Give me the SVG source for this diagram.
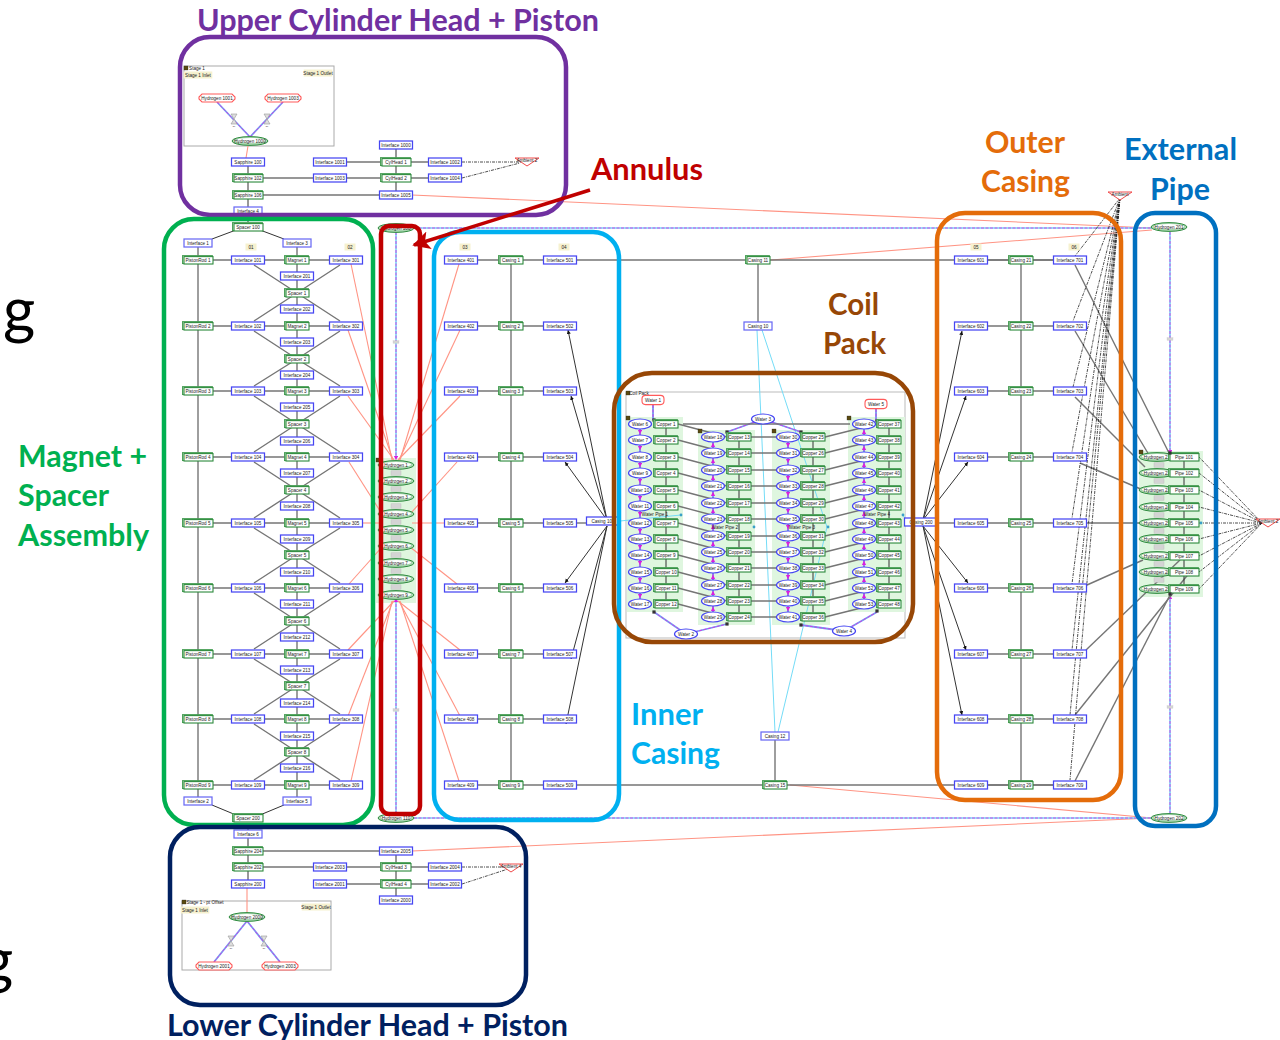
<svg xmlns="http://www.w3.org/2000/svg" width="1280" height="1040" viewBox="0 0 1280 1040">
<style>
text{font-family:"Liberation Sans",Arial,sans-serif;font-size:4.6px;text-anchor:middle;dominant-baseline:central;fill:#222}
.t text,text.t{font-family:Lato,"Open Sans",sans-serif;font-weight:700;font-size:30px;text-anchor:start;dominant-baseline:auto}
.f{fill:#fff}
.k,.g,.s,.d,.c,.m,.b{fill:none}
.k path{stroke:#333;stroke-width:1}
.g path{stroke:#757575;stroke-width:1.4}
.s path{stroke:#ff9484;stroke-width:1.1}
.d path{stroke:#222;stroke-width:.8;stroke-dasharray:3 1 1 1}
.c path{stroke:#74dcf7;stroke-width:1.6}
.b path{stroke:#6f9ff0;stroke-width:1.8}
.m path{stroke:#d633e8;stroke-width:.9;stroke-dasharray:3 1.5}
.a{fill:none;stroke-width:4.5}
.p{fill:#3aa0c8}
</style>
<defs>
<marker id="ah" markerWidth="5" markerHeight="5" refX="4" refY="2" orient="auto"><path d="M0 0L4 2L0 4Z" fill="#111"/></marker>
<marker id="mh" markerWidth="6" markerHeight="6" refX="2.5" refY="2.5" orient="auto"><path d="M0 0L5 2.5L0 5Z" fill="#d920e0"/></marker>
<marker id="rh" markerWidth="6" markerHeight="6" refX="4.5" refY="3" orient="auto" markerUnits="strokeWidth"><path d="M0 .4L5 3L0 5.6L1.2 3Z" fill="#c00000"/></marker>
<g id="I"><rect x="-16.5" y="-4" width="33" height="8" fill="#fff" stroke="#4646f2" stroke-width="1.25"/></g>
<g id="J"><rect x="-14" y="-4" width="28" height="8" fill="#fff" stroke="#6a6af4" stroke-width="1.25"/></g>
<g id="S"><rect x="-12.5" y="-4.4" width="24" height="8" fill="#cfe8d2" stroke="#3f9a4d" stroke-width=".9"/><rect x="-11" y="-3.4" width="23" height="7.4" fill="#fff" stroke="#2e8b3e" stroke-width="1.1"/></g>
<g id="P"><rect x="-15.5" y="-4.4" width="30" height="8" fill="#cfe8d2" stroke="#3f9a4d" stroke-width=".9"/><rect x="-14" y="-3.4" width="29" height="7.4" fill="#fff" stroke="#2e8b3e" stroke-width="1.1"/></g>
<g id="H"><ellipse rx="18" ry="4.4" fill="#a9d6b0" stroke="#2e8b3e" stroke-width="1"/><ellipse cy="-.5" rx="15" ry="2.6" fill="#fff"/></g>
<g id="W"><ellipse rx="11.5" ry="5" fill="#fff" stroke="#4646f2" stroke-width="1.2"/></g>
<g id="R"><path d="M-15 -4H15L18 -1V1L15 4H-15L-18 1V-1Z" fill="#fff" stroke="#ff5a5a" stroke-width="1.1"/></g>
<g id="Y"><rect x="-11" y="-4.6" width="22" height="9.2" rx="3.5" fill="#fff" stroke="#ff5a5a" stroke-width="1.1"/></g>
<path id="A" d="M-12 -3H12L0 5Z" fill="#fff" stroke="#f04a4a" stroke-width="1"/>
<g id="V"><path d="M-3 -5H3L-3 5H3Z" fill="#ddd" stroke="#999" stroke-width=".6"/><text y="7" style="font-size:2.5px">bv</text></g>
<rect id="Q" x="-5" y="-2.2" width="10" height="4.4" fill="#d4d4d4" stroke="#bbb" stroke-width=".4"/>
<rect id="L" x="-5.5" y="-3.5" width="11" height="7" fill="#f6f1cf"/>
<rect id="B" x="-2" y="-2" width="4" height="4" fill="#5a4a10" stroke="#222" stroke-width=".3"/>
<rect id="D" x="-1.6" y="-1.6" width="3.2" height="3.2" fill="#333"/>
</defs>
<rect width="1280" height="1040" fill="#fff"/>

<g id="backgrounds">
<rect x="184" y="66" width="150" height="80" class="f" stroke="#aaa" stroke-width="1"/>
<rect x="182" y="901" width="149" height="69" class="f" stroke="#aaa" stroke-width="1"/>
<rect x="626" y="392" width="279" height="246" class="f" stroke="#bbb" stroke-width="1"/>
<rect x="376" y="458" width="40" height="145" fill="#dff6df"/>
<rect x="1139" y="451" width="64" height="146" fill="#dff6df"/>
<rect x="627" y="417" width="56" height="195" fill="#dff6df"/>
<rect x="698" y="430" width="57" height="195" fill="#dff6df"/>
<rect x="772" y="430" width="58" height="195" fill="#dff6df"/>
<rect x="848" y="417" width="57" height="195" fill="#dff6df"/>
</g>

<g id="connectors">
<g class="s">
<path d="M248 146L246 158"/><path d="M247 921V888"/>
<path d="M412 195L1152 228"/><path d="M771 260L1152 230"/><path d="M412 851L1152 818"/><path d="M790 785L1152 818"/>
<path d="M351 264L392 460"/><path d="M348 330L393 460"/><path d="M348 396L394 460"/><path d="M349 462L382 514"/><path d="M362 523H380"/><path d="M349 584L382 547"/><path d="M348 650L394 601"/><path d="M348 716L393 601"/><path d="M351 781L392 601"/>
<path d="M459 264L400 460"/><path d="M460 330L399 460"/><path d="M460 396L398 460"/><path d="M457 462L410 514"/><path d="M445 523H412"/><path d="M457 584L410 547"/><path d="M460 650L398 601"/><path d="M460 716L399 601"/><path d="M459 781L400 601"/>
</g>
<g class="c">
<path d="M396 228H1152"/><path d="M396 818H1152"/>
<path d="M396 232V458"/><path d="M396 600V814"/><path d="M1170 232V452"/><path d="M1170 597V814"/>
<path d="M757 330L775 732" style="stroke-width:1"/><path d="M762 330L827 527L778 732" style="stroke-width:1"/>
<path d="M620 521L681 515" style="stroke-width:1"/><path d="M906 520L903 515" style="stroke-width:1"/>
</g>
<g class="m">
<path d="M396 228H1152"/><path d="M396 818H1152"/>
<path d="M396 232V458" marker-end="url(#mh)"/><path d="M396 814V600" marker-end="url(#mh)"/><path d="M1170 232V452" marker-end="url(#mh)"/><path d="M1170 814V597" marker-end="url(#mh)"/>
</g>
<g class="b">
<path d="M217 102L250 137"/><path d="M283 102L250 137"/>
<path d="M214 962L247 921"/><path d="M280 962L247 921"/>
<path d="M653 405V420"/><path d="M876 409V421"/>
<path d="M763 419L727 432"/><path d="M763 419L801 432"/><path d="M686 634L654 612"/><path d="M686 634L727 624"/><path d="M844 631L801 625"/><path d="M844 631L877 612"/>
<path d="M640 424V604"/><path d="M713 437V617"/><path d="M788 437V617"/><path d="M864 424V604"/>
</g>
<g class="m">
<path d="M217 102L250 137"/><path d="M283 102L250 137"/>
<path d="M214 962L247 921"/><path d="M280 962L247 921"/>
<path d="M653 405V420"/><path d="M876 409V421"/>
<path d="M763 419L727 432"/><path d="M763 419L801 432"/><path d="M686 634L654 612"/><path d="M686 634L727 624"/><path d="M844 631L801 625"/><path d="M844 631L877 612"/>
<path marker-mid="url(#mh)" d="M640 424V432V440V448V457V465V473V481V490V498V506V514V523V531V539V547V555V563V572V580V588V596V604"/>
<path marker-mid="url(#mh)" d="M713 617V609V601V593V585V577V568V560V552V544V536V527V519V511V503V494V486V478V470V461V453V445V437"/>
<path marker-mid="url(#mh)" d="M788 437V445V453V461V470V478V486V494V503V511V519V527V536V544V552V560V568V577V585V593V601V609V617"/>
<path marker-mid="url(#mh)" d="M864 604V596V588V580V572V563V555V547V539V531V523V514V506V498V490V481V473V465V457V448V440V432V424"/>
</g>
<g class="g">
<path d="M198 243V801"/><path d="M297 243V801"/><path d="M511 260V785"/><path d="M1021 260V785"/>
<path d="M198 260H346"/><path d="M198 326H346"/><path d="M198 391H346"/><path d="M198 457H346"/><path d="M198 523H346"/><path d="M198 588H346"/><path d="M198 654H346"/><path d="M198 719H346"/><path d="M198 785H346"/>
<path d="M461 260H560"/><path d="M461 326H560"/><path d="M461 391H560"/><path d="M461 457H560"/><path d="M461 523H560"/><path d="M461 588H560"/><path d="M461 654H560"/><path d="M461 719H560"/><path d="M461 785H560"/>
<path d="M971 260H1070"/><path d="M971 326H1070"/><path d="M971 391H1070"/><path d="M971 457H1070"/><path d="M971 523H1070"/><path d="M971 588H1070"/><path d="M971 654H1070"/><path d="M971 719H1070"/><path d="M971 785H1070"/>
<path d="M254 265L297 293L340 265M254 321L297 293L340 321"/><path d="M254 331L297 359L340 331M254 386L297 359L340 386"/><path d="M254 396L297 424L340 396M254 452L297 424L340 452"/><path d="M254 462L297 490L340 462M254 518L297 490L340 518"/><path d="M254 528L297 555L340 528M254 583L297 555L340 583"/><path d="M254 593L297 621L340 593M254 649L297 621L340 649"/><path d="M254 659L297 686L340 659M254 714L297 686L340 714"/><path d="M254 724L297 752L340 724M254 780L297 752L340 780"/>
<path d="M248 178H445"/><path d="M248 195H396"/><path d="M330 162H445"/><path d="M248 851H396"/><path d="M248 867H445"/><path d="M330 884H445"/>
<path d="M576 260H1054"/><path d="M576 785H1054"/><path d="M758 260V322"/><path d="M775 740V785"/>
<path d="M576 523H590"/><path d="M937 523H955"/>
<path d="M1075 265L1170 455"/><path d="M1075 331L1152 460"/><path d="M1075 397L1145 467"/><path d="M1080 463L1143 490"/><path d="M1086 523H1143"/><path d="M1087 585L1143 560"/><path d="M1086 650L1180 560"/><path d="M1075 715L1190 572"/><path d="M1075 781L1170 595"/>
<path d="M683 424H850"/>
<path d="M678 424L727 437"/><path d="M678 440L727 453"/><path d="M678 457L727 470"/><path d="M678 473L727 486"/><path d="M678 490L727 503"/><path d="M678 506L727 519"/><path d="M678 523L727 536"/><path d="M678 539L727 552"/><path d="M678 555L727 568"/><path d="M678 572L727 585"/><path d="M678 588L727 601"/><path d="M678 604L727 617"/>
<path d="M739 437H813"/><path d="M739 453H813"/><path d="M739 470H813"/><path d="M739 486H813"/><path d="M739 503H813"/><path d="M739 519H813"/><path d="M739 536H813"/><path d="M739 552H813"/><path d="M739 568H813"/><path d="M739 585H813"/><path d="M739 601H813"/><path d="M739 617H813"/>
<path d="M825 437L877 424"/><path d="M825 453L877 440"/><path d="M825 470L877 457"/><path d="M825 486L877 473"/><path d="M825 503L877 490"/><path d="M825 519L877 506"/><path d="M825 536L877 523"/><path d="M825 552L877 539"/><path d="M825 568L877 555"/><path d="M825 585L877 572"/><path d="M825 601L877 588"/><path d="M825 617L877 604"/>
</g>
<g class="k">
<path d="M248 162V222"/><path d="M396 145V195"/><path d="M248 823V884"/><path d="M396 851V900"/>
<path d="M236 230L212 239"/><path d="M260 230L284 239"/><path d="M212 805L236 815"/><path d="M284 805L260 815"/>
<path d="M666 424V604"/><path d="M739 437V617"/><path d="M813 437V617"/><path d="M889 424V604"/><path d="M1184 457V589"/>
<path d="M607 520L568 330" marker-end="url(#ah)"/><path d="M607 520L571 396" marker-end="url(#ah)"/><path d="M607 520L565 462" marker-end="url(#ah)"/><path d="M607 526L565 583" marker-end="url(#ah)"/><path d="M607 526L571 659" marker-end="url(#ah)"/><path d="M607 526L566 724" marker-end="url(#ah)"/>
<path d="M923 520L962 331" marker-end="url(#ah)"/><path d="M923 520L966 396" marker-end="url(#ah)"/><path d="M923 520L968 462" marker-end="url(#ah)"/><path d="M923 526L968 583" marker-end="url(#ah)"/><path d="M923 526L966 650" marker-end="url(#ah)"/><path d="M923 526L962 715" marker-end="url(#ah)"/>
</g>
<g class="d">
<path d="M462 162H524"/><path d="M462 178L520 163"/><path d="M462 867H505"/><path d="M462 884L508 869"/>
<path d="M1120 198L1075 256"/><path d="M1120 198L1073 321"/><path d="M1120 198L1073 387"/><path d="M1120 198L1072 452"/><path d="M1120 198L1072 518"/><path d="M1120 198L1072 584"/><path d="M1120 198L1072 650"/><path d="M1120 198L1070 715"/><path d="M1120 198L1070 780"/>
<path d="M1262 523L1199 457"/><path d="M1262 523L1199 473"/><path d="M1262 523L1199 490"/><path d="M1262 523L1199 507"/><path d="M1262 523H1199"/><path d="M1262 523L1199 539"/><path d="M1262 523L1199 556"/><path d="M1262 523L1199 572"/><path d="M1262 523L1199 589"/>
</g>
</g>

<g id="upper-head">
<g id="stage1"><use href="#B" x="186" y="68"/><text x="197" y="68">Stage 1</text><use href="#L" transform="translate(198 75) scale(2.6 1)"/><text x="198" y="75">Stage 1 Inlet</text><use href="#L" transform="translate(318 73) scale(2.6 1)"/><text x="318" y="73">Stage 1 Outlet</text></g>
<g id="h1001" transform="translate(217 98)"><use href="#R"/><text>Hydrogen 1001</text></g>
<g id="h1003" transform="translate(283 98)"><use href="#R"/><text>Hydrogen 1003</text></g>
<g id="h1000" transform="translate(250 141)"><use href="#H"/><text>Hydrogen 1000</text></g>
<g id="v1" transform="translate(234 119)"><use href="#V"/></g><g id="v2" transform="translate(267 119)"><use href="#V"/></g>
<g id="sa100" transform="translate(248 162)"><use href="#I"/><text>Sapphire 100</text></g>
<g id="sa102" transform="translate(248 178)"><use href="#P"/><text>Sapphire 102</text></g>
<g id="sa106" transform="translate(248 195)"><use href="#P"/><text>Sapphire 106</text></g>
<g id="i4" transform="translate(248 211)"><use href="#J"/><text>Interface 4</text></g>
<g id="i1001" transform="translate(330 162)"><use href="#I"/><text>Interface 1001</text></g>
<g id="i1003" transform="translate(330 178)"><use href="#I"/><text>Interface 1003</text></g>
<g id="i1000" transform="translate(396 145)"><use href="#I"/><text>Interface 1000</text></g>
<g id="cy1" transform="translate(396 162)"><use href="#P"/><text>CylHead 1</text></g>
<g id="cy2" transform="translate(396 178)"><use href="#P"/><text>CylHead 2</text></g>
<g id="i1005" transform="translate(396 195)"><use href="#I"/><text>Interface 1005</text></g>
<g id="i1002" transform="translate(445 162)"><use href="#I"/><text>Interface 1002</text></g>
<g id="i1004" transform="translate(445 178)"><use href="#I"/><text>Interface 1004</text></g>
<g id="amb1" transform="translate(527 161)"><use href="#A"/><text y="-.5">Ambient 2</text></g>
</g>

<g id="lower-head">
<g id="stage2"><use href="#B" x="184" y="902"/><text x="205" y="902">Stage 1 - pt Offset</text><use href="#L" transform="translate(195 910) scale(2.6 1)"/><text x="195" y="910">Stage 1 Inlet</text><use href="#L" transform="translate(316 907) scale(2.6 1)"/><text x="316" y="907">Stage 1 Outlet</text></g>
<g id="h2000" transform="translate(247 917)"><use href="#H"/><text>Hydrogen 2000</text></g>
<g id="h2001" transform="translate(214 966)"><use href="#R"/><text>Hydrogen 2001</text></g>
<g id="h2003" transform="translate(280 966)"><use href="#R"/><text>Hydrogen 2003</text></g>
<g id="v3" transform="translate(231 941)"><use href="#V"/></g><g id="v4" transform="translate(264 941)"><use href="#V"/></g>
<g id="i6" transform="translate(248 834)"><use href="#J"/><text>Interface 6</text></g>
<g id="sa204" transform="translate(248 851)"><use href="#P"/><text>Sapphire 204</text></g>
<g id="sa202" transform="translate(248 867)"><use href="#P"/><text>Sapphire 202</text></g>
<g id="sa200" transform="translate(248 884)"><use href="#I"/><text>Sapphire 200</text></g>
<g id="i2005" transform="translate(396 851)"><use href="#I"/><text>Interface 2005</text></g>
<g id="i2003" transform="translate(330 867)"><use href="#I"/><text>Interface 2003</text></g>
<g id="cy3" transform="translate(396 867)"><use href="#P"/><text>CylHead 3</text></g>
<g id="i2004" transform="translate(445 867)"><use href="#I"/><text>Interface 2004</text></g>
<g id="i2001" transform="translate(330 884)"><use href="#I"/><text>Interface 2001</text></g>
<g id="cy4" transform="translate(396 884)"><use href="#P"/><text>CylHead 4</text></g>
<g id="i2002" transform="translate(445 884)"><use href="#I"/><text>Interface 2002</text></g>
<g id="i2000" transform="translate(396 900)"><use href="#I"/><text>Interface 2000</text></g>
<g id="amb2" transform="translate(511 867)"><use href="#A"/><text y="-.5">Ambient 4</text></g>
</g>

<g id="magnet-spacer">
<g id="sp100" transform="translate(248 227)"><use href="#P"/><text>Spacer 100</text></g>
<g id="sp200" transform="translate(248 818)"><use href="#P"/><text>Spacer 200</text></g>
<g id="i1" transform="translate(198 243)"><use href="#J"/><text>Interface 1</text></g>
<g id="i3" transform="translate(297 243)"><use href="#J"/><text>Interface 3</text></g>
<g id="i2" transform="translate(198 801)"><use href="#J"/><text>Interface 2</text></g>
<g id="i5" transform="translate(297 801)"><use href="#J"/><text>Interface 5</text></g>
<g id="l1"><use href="#L" x="251" y="247"/><text x="251" y="247">01</text></g><g id="l2"><use href="#L" x="350" y="247"/><text x="350" y="247">02</text></g>
<g id="pr1" transform="translate(198 260)"><use href="#P"/><text>PistonRod 1</text></g><g id="i101" transform="translate(248 260)"><use href="#I"/><text>Interface 101</text></g><g id="mg1" transform="translate(297 260)"><use href="#S"/><text>Magnet 1</text></g><g id="i301" transform="translate(346 260)"><use href="#I"/><text>Interface 301</text></g>
<g id="pr2" transform="translate(198 326)"><use href="#P"/><text>PistonRod 2</text></g><g id="i102" transform="translate(248 326)"><use href="#I"/><text>Interface 102</text></g><g id="mg2" transform="translate(297 326)"><use href="#S"/><text>Magnet 2</text></g><g id="i302" transform="translate(346 326)"><use href="#I"/><text>Interface 302</text></g>
<g id="pr3" transform="translate(198 391)"><use href="#P"/><text>PistonRod 3</text></g><g id="i103" transform="translate(248 391)"><use href="#I"/><text>Interface 103</text></g><g id="mg3" transform="translate(297 391)"><use href="#S"/><text>Magnet 3</text></g><g id="i303" transform="translate(346 391)"><use href="#I"/><text>Interface 303</text></g>
<g id="pr4" transform="translate(198 457)"><use href="#P"/><text>PistonRod 4</text></g><g id="i104" transform="translate(248 457)"><use href="#I"/><text>Interface 104</text></g><g id="mg4" transform="translate(297 457)"><use href="#S"/><text>Magnet 4</text></g><g id="i304" transform="translate(346 457)"><use href="#I"/><text>Interface 304</text></g>
<g id="pr5" transform="translate(198 523)"><use href="#P"/><text>PistonRod 5</text></g><g id="i105" transform="translate(248 523)"><use href="#I"/><text>Interface 105</text></g><g id="mg5" transform="translate(297 523)"><use href="#S"/><text>Magnet 5</text></g><g id="i305" transform="translate(346 523)"><use href="#I"/><text>Interface 305</text></g>
<g id="pr6" transform="translate(198 588)"><use href="#P"/><text>PistonRod 6</text></g><g id="i106" transform="translate(248 588)"><use href="#I"/><text>Interface 106</text></g><g id="mg6" transform="translate(297 588)"><use href="#S"/><text>Magnet 6</text></g><g id="i306" transform="translate(346 588)"><use href="#I"/><text>Interface 306</text></g>
<g id="pr7" transform="translate(198 654)"><use href="#P"/><text>PistonRod 7</text></g><g id="i107" transform="translate(248 654)"><use href="#I"/><text>Interface 107</text></g><g id="mg7" transform="translate(297 654)"><use href="#S"/><text>Magnet 7</text></g><g id="i307" transform="translate(346 654)"><use href="#I"/><text>Interface 307</text></g>
<g id="pr8" transform="translate(198 719)"><use href="#P"/><text>PistonRod 8</text></g><g id="i108" transform="translate(248 719)"><use href="#I"/><text>Interface 108</text></g><g id="mg8" transform="translate(297 719)"><use href="#S"/><text>Magnet 8</text></g><g id="i308" transform="translate(346 719)"><use href="#I"/><text>Interface 308</text></g>
<g id="pr9" transform="translate(198 785)"><use href="#P"/><text>PistonRod 9</text></g><g id="i109" transform="translate(248 785)"><use href="#I"/><text>Interface 109</text></g><g id="mg9" transform="translate(297 785)"><use href="#S"/><text>Magnet 9</text></g><g id="i309" transform="translate(346 785)"><use href="#I"/><text>Interface 309</text></g>
<g id="i201" transform="translate(297 276)"><use href="#I"/><text>Interface 201</text></g><g id="sp1" transform="translate(297 293)"><use href="#S"/><text>Spacer 1</text></g><g id="i202" transform="translate(297 309)"><use href="#I"/><text>Interface 202</text></g>
<g id="i203" transform="translate(297 342)"><use href="#I"/><text>Interface 203</text></g><g id="sp2" transform="translate(297 359)"><use href="#S"/><text>Spacer 2</text></g><g id="i204" transform="translate(297 375)"><use href="#I"/><text>Interface 204</text></g>
<g id="i205" transform="translate(297 407)"><use href="#I"/><text>Interface 205</text></g><g id="sp3" transform="translate(297 424)"><use href="#S"/><text>Spacer 3</text></g><g id="i206" transform="translate(297 441)"><use href="#I"/><text>Interface 206</text></g>
<g id="i207" transform="translate(297 473)"><use href="#I"/><text>Interface 207</text></g><g id="sp4" transform="translate(297 490)"><use href="#S"/><text>Spacer 4</text></g><g id="i208" transform="translate(297 506)"><use href="#I"/><text>Interface 208</text></g>
<g id="i209" transform="translate(297 539)"><use href="#I"/><text>Interface 209</text></g><g id="sp5" transform="translate(297 555)"><use href="#S"/><text>Spacer 5</text></g><g id="i210" transform="translate(297 572)"><use href="#I"/><text>Interface 210</text></g>
<g id="i211" transform="translate(297 604)"><use href="#I"/><text>Interface 211</text></g><g id="sp6" transform="translate(297 621)"><use href="#S"/><text>Spacer 6</text></g><g id="i212" transform="translate(297 637)"><use href="#I"/><text>Interface 212</text></g>
<g id="i213" transform="translate(297 670)"><use href="#I"/><text>Interface 213</text></g><g id="sp7" transform="translate(297 686)"><use href="#S"/><text>Spacer 7</text></g><g id="i214" transform="translate(297 703)"><use href="#I"/><text>Interface 214</text></g>
<g id="i215" transform="translate(297 736)"><use href="#I"/><text>Interface 215</text></g><g id="sp8" transform="translate(297 752)"><use href="#S"/><text>Spacer 8</text></g><g id="i216" transform="translate(297 768)"><use href="#I"/><text>Interface 216</text></g>
</g>

<g id="annulus">
<g id="hA" transform="translate(396 228)"><use href="#H"/><text>Hydrogen 100</text></g>
<g id="hB" transform="translate(396 818)"><use href="#H"/><text>Hydrogen 110</text></g>
<g id="am1" transform="translate(396 342) scale(.6)"><use href="#Q"/></g><g id="am2" transform="translate(396 710) scale(.6)"><use href="#Q"/></g>
<use href="#B" x="378" y="460"/>
<g id="an1" transform="translate(396 465)"><use href="#H"/><text>Hydrogen 1</text></g><g id="q1" transform="translate(396 473)"><use href="#Q"/></g>
<g id="an2" transform="translate(396 481)"><use href="#H"/><text>Hydrogen 2</text></g><g id="q2" transform="translate(396 489)"><use href="#Q"/></g>
<g id="an3" transform="translate(396 497)"><use href="#H"/><text>Hydrogen 3</text></g><g id="q3" transform="translate(396 506)"><use href="#Q"/></g>
<g id="an4" transform="translate(396 514)"><use href="#H"/><text>Hydrogen 4</text></g><g id="q4" transform="translate(396 522)"><use href="#Q"/></g>
<g id="an5" transform="translate(396 530)"><use href="#H"/><text>Hydrogen 5</text></g><g id="q5" transform="translate(396 538)"><use href="#Q"/></g>
<g id="an6" transform="translate(396 546)"><use href="#H"/><text>Hydrogen 6</text></g><g id="q6" transform="translate(396 555)"><use href="#Q"/></g>
<g id="an7" transform="translate(396 563)"><use href="#H"/><text>Hydrogen 7</text></g><g id="q7" transform="translate(396 571)"><use href="#Q"/></g>
<g id="an8" transform="translate(396 579)"><use href="#H"/><text>Hydrogen 8</text></g><g id="q8" transform="translate(396 587)"><use href="#Q"/></g>
<g id="an9" transform="translate(396 595)"><use href="#H"/><text>Hydrogen 9</text></g>
</g>

<g id="inner-casing">
<g id="l3"><use href="#L" x="465" y="247"/><text x="465" y="247">03</text></g><g id="l4"><use href="#L" x="564" y="247"/><text x="564" y="247">04</text></g>
<g id="i401" transform="translate(461 260)"><use href="#I"/><text>Interface 401</text></g><g id="c1" transform="translate(511 260)"><use href="#S"/><text>Casing 1</text></g><g id="i501" transform="translate(560 260)"><use href="#I"/><text>Interface 501</text></g>
<g id="i402" transform="translate(461 326)"><use href="#I"/><text>Interface 402</text></g><g id="c2" transform="translate(511 326)"><use href="#S"/><text>Casing 2</text></g><g id="i502" transform="translate(560 326)"><use href="#I"/><text>Interface 502</text></g>
<g id="i403" transform="translate(461 391)"><use href="#I"/><text>Interface 403</text></g><g id="c3" transform="translate(511 391)"><use href="#S"/><text>Casing 3</text></g><g id="i503" transform="translate(560 391)"><use href="#I"/><text>Interface 503</text></g>
<g id="i404" transform="translate(461 457)"><use href="#I"/><text>Interface 404</text></g><g id="c4" transform="translate(511 457)"><use href="#S"/><text>Casing 4</text></g><g id="i504" transform="translate(560 457)"><use href="#I"/><text>Interface 504</text></g>
<g id="i405" transform="translate(461 523)"><use href="#I"/><text>Interface 405</text></g><g id="c5" transform="translate(511 523)"><use href="#S"/><text>Casing 5</text></g><g id="i505" transform="translate(560 523)"><use href="#I"/><text>Interface 505</text></g>
<g id="i406" transform="translate(461 588)"><use href="#I"/><text>Interface 406</text></g><g id="c6" transform="translate(511 588)"><use href="#S"/><text>Casing 6</text></g><g id="i506" transform="translate(560 588)"><use href="#I"/><text>Interface 506</text></g>
<g id="i407" transform="translate(461 654)"><use href="#I"/><text>Interface 407</text></g><g id="c7" transform="translate(511 654)"><use href="#S"/><text>Casing 7</text></g><g id="i507" transform="translate(560 654)"><use href="#I"/><text>Interface 507</text></g>
<g id="i408" transform="translate(461 719)"><use href="#I"/><text>Interface 408</text></g><g id="c8" transform="translate(511 719)"><use href="#S"/><text>Casing 8</text></g><g id="i508" transform="translate(560 719)"><use href="#I"/><text>Interface 508</text></g>
<g id="i409" transform="translate(461 785)"><use href="#I"/><text>Interface 409</text></g><g id="c9" transform="translate(511 785)"><use href="#S"/><text>Casing 9</text></g><g id="i509" transform="translate(560 785)"><use href="#I"/><text>Interface 509</text></g>
<g id="c100" transform="translate(603 521)"><use href="#I"/><text>Casing 100</text></g>
<g id="c11" transform="translate(758 260)"><use href="#S"/><text>Casing 11</text></g>
<g id="c10" transform="translate(758 326)"><use href="#J"/><text>Casing 10</text></g>
<g id="c12" transform="translate(775 736)"><use href="#J"/><text>Casing 12</text></g>
<g id="c15" transform="translate(775 785)"><use href="#S"/><text>Casing 15</text></g>
</g>

<g id="outer-casing">
<g id="l5"><use href="#L" x="976" y="247"/><text x="976" y="247">05</text></g><g id="l6"><use href="#L" x="1074" y="247"/><text x="1074" y="247">06</text></g>
<g id="i601" transform="translate(971 260)"><use href="#I"/><text>Interface 601</text></g><g id="c21" transform="translate(1021 260)"><use href="#S"/><text>Casing 21</text></g><g id="i701" transform="translate(1070 260)"><use href="#I"/><text>Interface 701</text></g>
<g id="i602" transform="translate(971 326)"><use href="#I"/><text>Interface 602</text></g><g id="c22" transform="translate(1021 326)"><use href="#S"/><text>Casing 22</text></g><g id="i702" transform="translate(1070 326)"><use href="#I"/><text>Interface 702</text></g>
<g id="i603" transform="translate(971 391)"><use href="#I"/><text>Interface 603</text></g><g id="c23" transform="translate(1021 391)"><use href="#S"/><text>Casing 23</text></g><g id="i703" transform="translate(1070 391)"><use href="#I"/><text>Interface 703</text></g>
<g id="i604" transform="translate(971 457)"><use href="#I"/><text>Interface 604</text></g><g id="c24" transform="translate(1021 457)"><use href="#S"/><text>Casing 24</text></g><g id="i704" transform="translate(1070 457)"><use href="#I"/><text>Interface 704</text></g>
<g id="i605" transform="translate(971 523)"><use href="#I"/><text>Interface 605</text></g><g id="c25" transform="translate(1021 523)"><use href="#S"/><text>Casing 25</text></g><g id="i705" transform="translate(1070 523)"><use href="#I"/><text>Interface 705</text></g>
<g id="i606" transform="translate(971 588)"><use href="#I"/><text>Interface 606</text></g><g id="c26" transform="translate(1021 588)"><use href="#S"/><text>Casing 26</text></g><g id="i706" transform="translate(1070 588)"><use href="#I"/><text>Interface 706</text></g>
<g id="i607" transform="translate(971 654)"><use href="#I"/><text>Interface 607</text></g><g id="c27" transform="translate(1021 654)"><use href="#S"/><text>Casing 27</text></g><g id="i707" transform="translate(1070 654)"><use href="#I"/><text>Interface 707</text></g>
<g id="i608" transform="translate(971 719)"><use href="#I"/><text>Interface 608</text></g><g id="c28" transform="translate(1021 719)"><use href="#S"/><text>Casing 28</text></g><g id="i708" transform="translate(1070 719)"><use href="#I"/><text>Interface 708</text></g>
<g id="i609" transform="translate(971 785)"><use href="#I"/><text>Interface 609</text></g><g id="c29" transform="translate(1021 785)"><use href="#S"/><text>Casing 29</text></g><g id="i709" transform="translate(1070 785)"><use href="#I"/><text>Interface 709</text></g>
<g id="c200" transform="translate(921 522)"><use href="#I"/><text>Casing 200</text></g>
<g id="amb3" transform="translate(1120 195)"><use href="#A"/><text y="-.5">Ambient</text></g>
</g>

<g id="external-pipe">
<g id="h201" transform="translate(1169 227)"><use href="#H"/><text>Hydrogen 201</text></g>
<g id="h202" transform="translate(1169 818)"><use href="#H"/><text>Hydrogen 202</text></g>
<g id="am3" transform="translate(1170 339) scale(.6)"><use href="#Q"/></g><g id="am4" transform="translate(1170 707) scale(.6)"><use href="#Q"/></g>
<use href="#B" x="1141" y="452"/>
<g id="pp1"><g transform="translate(1157 457)"><use href="#H"/><text>Hydrogen 21</text></g><g transform="translate(1184 457)"><use href="#P"/><text>Pipe 101</text></g></g><use href="#Q" x="1159" y="465"/>
<g id="pp2"><g transform="translate(1157 473)"><use href="#H"/><text>Hydrogen 22</text></g><g transform="translate(1184 473)"><use href="#P"/><text>Pipe 102</text></g></g><use href="#Q" x="1159" y="481"/>
<g id="pp3"><g transform="translate(1157 490)"><use href="#H"/><text>Hydrogen 23</text></g><g transform="translate(1184 490)"><use href="#P"/><text>Pipe 103</text></g></g><use href="#Q" x="1159" y="498"/>
<g id="pp4"><g transform="translate(1157 507)"><use href="#H"/><text>Hydrogen 24</text></g><g transform="translate(1184 507)"><use href="#P"/><text>Pipe 104</text></g></g><use href="#Q" x="1159" y="515"/>
<g id="pp5"><g transform="translate(1157 523)"><use href="#H"/><text>Hydrogen 25</text></g><g transform="translate(1184 523)"><use href="#P"/><text>Pipe 105</text></g></g><use href="#Q" x="1159" y="531"/>
<g id="pp6"><g transform="translate(1157 539)"><use href="#H"/><text>Hydrogen 26</text></g><g transform="translate(1184 539)"><use href="#P"/><text>Pipe 106</text></g></g><use href="#Q" x="1159" y="547"/>
<g id="pp7"><g transform="translate(1157 556)"><use href="#H"/><text>Hydrogen 27</text></g><g transform="translate(1184 556)"><use href="#P"/><text>Pipe 107</text></g></g><use href="#Q" x="1159" y="564"/>
<g id="pp8"><g transform="translate(1157 572)"><use href="#H"/><text>Hydrogen 28</text></g><g transform="translate(1184 572)"><use href="#P"/><text>Pipe 108</text></g></g><use href="#Q" x="1159" y="580"/>
<g id="pp9"><g transform="translate(1157 589)"><use href="#H"/><text>Hydrogen 29</text></g><g transform="translate(1184 589)"><use href="#P"/><text>Pipe 109</text></g></g>
<circle class="p" cx="1201" cy="523" r="1.4"/>
<use href="#D" x="1170" y="453"/><use href="#D" x="1170" y="594"/>
<g id="amb5" transform="translate(1268 522)"><use href="#A"/><text y="-.5">Ambient 2</text></g>
</g>

<g id="coil-pack">
<use href="#B" x="628" y="393"/><text x="639" y="393">Coil Pack</text>
<use href="#B" x="628" y="418"/><use href="#B" x="700" y="431"/><use href="#B" x="774" y="431"/><use href="#B" x="849" y="418"/>
<use href="#D" x="654" y="420"/><use href="#D" x="727" y="432"/><use href="#D" x="801" y="432"/><use href="#D" x="877" y="421"/><use href="#D" x="654" y="612"/><use href="#D" x="727" y="624"/><use href="#D" x="801" y="625"/><use href="#D" x="877" y="611"/>
<circle class="p" cx="681" cy="515" r="1.4"/><circle class="p" cx="754" cy="527" r="1.4"/><circle class="p" cx="828" cy="527" r="1.4"/><circle class="p" cx="903" cy="515" r="1.4"/>
<g id="w1" transform="translate(653 400)"><use href="#Y"/><text>Water 1</text></g>
<g id="w5" transform="translate(876 404)"><use href="#Y"/><text>Water 5</text></g>
<g id="w3" transform="translate(763 419)"><use href="#W"/><text>Water 3</text></g>
<g id="w2" transform="translate(686 634)"><use href="#W"/><text>Water 2</text></g>
<g id="w4" transform="translate(844 631)"><use href="#W"/><text>Water 4</text></g>
<g id="w6" transform="translate(640 424)"><use href="#W"/><text>Water 6</text></g><g id="k1" transform="translate(666 424)"><use href="#S"/><text>Copper 1</text></g>
<g id="w7" transform="translate(640 440)"><use href="#W"/><text>Water 7</text></g><g id="k2" transform="translate(666 440)"><use href="#S"/><text>Copper 2</text></g>
<g id="w8" transform="translate(640 457)"><use href="#W"/><text>Water 8</text></g><g id="k3" transform="translate(666 457)"><use href="#S"/><text>Copper 3</text></g>
<g id="w9" transform="translate(640 473)"><use href="#W"/><text>Water 9</text></g><g id="k4" transform="translate(666 473)"><use href="#S"/><text>Copper 4</text></g>
<g id="w10" transform="translate(640 490)"><use href="#W"/><text>Water 10</text></g><g id="k5" transform="translate(666 490)"><use href="#S"/><text>Copper 5</text></g>
<g id="w11" transform="translate(640 506)"><use href="#W"/><text>Water 11</text></g><g id="k6" transform="translate(666 506)"><use href="#S"/><text>Copper 6</text></g>
<g id="w12" transform="translate(640 523)"><use href="#W"/><text>Water 12</text></g><g id="k7" transform="translate(666 523)"><use href="#S"/><text>Copper 7</text></g>
<g id="w13" transform="translate(640 539)"><use href="#W"/><text>Water 13</text></g><g id="k8" transform="translate(666 539)"><use href="#S"/><text>Copper 8</text></g>
<g id="w14" transform="translate(640 555)"><use href="#W"/><text>Water 14</text></g><g id="k9" transform="translate(666 555)"><use href="#S"/><text>Copper 9</text></g>
<g id="w15" transform="translate(640 572)"><use href="#W"/><text>Water 15</text></g><g id="k10" transform="translate(666 572)"><use href="#S"/><text>Copper 10</text></g>
<g id="w16" transform="translate(640 588)"><use href="#W"/><text>Water 16</text></g><g id="k11" transform="translate(666 588)"><use href="#S"/><text>Copper 11</text></g>
<g id="w17" transform="translate(640 604)"><use href="#W"/><text>Water 17</text></g><g id="k12" transform="translate(666 604)"><use href="#S"/><text>Copper 12</text></g>
<g id="w18" transform="translate(713 437)"><use href="#W"/><text>Water 18</text></g><g id="k13" transform="translate(739 437)"><use href="#S"/><text>Copper 13</text></g>
<g id="w19" transform="translate(713 453)"><use href="#W"/><text>Water 19</text></g><g id="k14" transform="translate(739 453)"><use href="#S"/><text>Copper 14</text></g>
<g id="w20" transform="translate(713 470)"><use href="#W"/><text>Water 20</text></g><g id="k15" transform="translate(739 470)"><use href="#S"/><text>Copper 15</text></g>
<g id="w21" transform="translate(713 486)"><use href="#W"/><text>Water 21</text></g><g id="k16" transform="translate(739 486)"><use href="#S"/><text>Copper 16</text></g>
<g id="w22" transform="translate(713 503)"><use href="#W"/><text>Water 22</text></g><g id="k17" transform="translate(739 503)"><use href="#S"/><text>Copper 17</text></g>
<g id="w23" transform="translate(713 519)"><use href="#W"/><text>Water 23</text></g><g id="k18" transform="translate(739 519)"><use href="#S"/><text>Copper 18</text></g>
<g id="w24" transform="translate(713 536)"><use href="#W"/><text>Water 24</text></g><g id="k19" transform="translate(739 536)"><use href="#S"/><text>Copper 19</text></g>
<g id="w25" transform="translate(713 552)"><use href="#W"/><text>Water 25</text></g><g id="k20" transform="translate(739 552)"><use href="#S"/><text>Copper 20</text></g>
<g id="w26" transform="translate(713 568)"><use href="#W"/><text>Water 26</text></g><g id="k21" transform="translate(739 568)"><use href="#S"/><text>Copper 21</text></g>
<g id="w27" transform="translate(713 585)"><use href="#W"/><text>Water 27</text></g><g id="k22" transform="translate(739 585)"><use href="#S"/><text>Copper 22</text></g>
<g id="w28" transform="translate(713 601)"><use href="#W"/><text>Water 28</text></g><g id="k23" transform="translate(739 601)"><use href="#S"/><text>Copper 23</text></g>
<g id="w29" transform="translate(713 617)"><use href="#W"/><text>Water 29</text></g><g id="k24" transform="translate(739 617)"><use href="#S"/><text>Copper 24</text></g>
<g id="w30" transform="translate(788 437)"><use href="#W"/><text>Water 30</text></g><g id="k25" transform="translate(813 437)"><use href="#S"/><text>Copper 25</text></g>
<g id="w31" transform="translate(788 453)"><use href="#W"/><text>Water 31</text></g><g id="k26" transform="translate(813 453)"><use href="#S"/><text>Copper 26</text></g>
<g id="w32" transform="translate(788 470)"><use href="#W"/><text>Water 32</text></g><g id="k27" transform="translate(813 470)"><use href="#S"/><text>Copper 27</text></g>
<g id="w33" transform="translate(788 486)"><use href="#W"/><text>Water 33</text></g><g id="k28" transform="translate(813 486)"><use href="#S"/><text>Copper 28</text></g>
<g id="w34" transform="translate(788 503)"><use href="#W"/><text>Water 34</text></g><g id="k29" transform="translate(813 503)"><use href="#S"/><text>Copper 29</text></g>
<g id="w35" transform="translate(788 519)"><use href="#W"/><text>Water 35</text></g><g id="k30" transform="translate(813 519)"><use href="#S"/><text>Copper 30</text></g>
<g id="w36" transform="translate(788 536)"><use href="#W"/><text>Water 36</text></g><g id="k31" transform="translate(813 536)"><use href="#S"/><text>Copper 31</text></g>
<g id="w37" transform="translate(788 552)"><use href="#W"/><text>Water 37</text></g><g id="k32" transform="translate(813 552)"><use href="#S"/><text>Copper 32</text></g>
<g id="w38" transform="translate(788 568)"><use href="#W"/><text>Water 38</text></g><g id="k33" transform="translate(813 568)"><use href="#S"/><text>Copper 33</text></g>
<g id="w39" transform="translate(788 585)"><use href="#W"/><text>Water 39</text></g><g id="k34" transform="translate(813 585)"><use href="#S"/><text>Copper 34</text></g>
<g id="w40" transform="translate(788 601)"><use href="#W"/><text>Water 40</text></g><g id="k35" transform="translate(813 601)"><use href="#S"/><text>Copper 35</text></g>
<g id="w41" transform="translate(788 617)"><use href="#W"/><text>Water 41</text></g><g id="k36" transform="translate(813 617)"><use href="#S"/><text>Copper 36</text></g>
<g id="w42" transform="translate(864 424)"><use href="#W"/><text>Water 42</text></g><g id="k37" transform="translate(889 424)"><use href="#S"/><text>Copper 37</text></g>
<g id="w43" transform="translate(864 440)"><use href="#W"/><text>Water 43</text></g><g id="k38" transform="translate(889 440)"><use href="#S"/><text>Copper 38</text></g>
<g id="w44" transform="translate(864 457)"><use href="#W"/><text>Water 44</text></g><g id="k39" transform="translate(889 457)"><use href="#S"/><text>Copper 39</text></g>
<g id="w45" transform="translate(864 473)"><use href="#W"/><text>Water 45</text></g><g id="k40" transform="translate(889 473)"><use href="#S"/><text>Copper 40</text></g>
<g id="w46" transform="translate(864 490)"><use href="#W"/><text>Water 46</text></g><g id="k41" transform="translate(889 490)"><use href="#S"/><text>Copper 41</text></g>
<g id="w47" transform="translate(864 506)"><use href="#W"/><text>Water 47</text></g><g id="k42" transform="translate(889 506)"><use href="#S"/><text>Copper 42</text></g>
<g id="w48" transform="translate(864 523)"><use href="#W"/><text>Water 48</text></g><g id="k43" transform="translate(889 523)"><use href="#S"/><text>Copper 43</text></g>
<g id="w49" transform="translate(864 539)"><use href="#W"/><text>Water 49</text></g><g id="k44" transform="translate(889 539)"><use href="#S"/><text>Copper 44</text></g>
<g id="w50" transform="translate(864 555)"><use href="#W"/><text>Water 50</text></g><g id="k45" transform="translate(889 555)"><use href="#S"/><text>Copper 45</text></g>
<g id="w51" transform="translate(864 572)"><use href="#W"/><text>Water 51</text></g><g id="k46" transform="translate(889 572)"><use href="#S"/><text>Copper 46</text></g>
<g id="w52" transform="translate(864 588)"><use href="#W"/><text>Water 52</text></g><g id="k47" transform="translate(889 588)"><use href="#S"/><text>Copper 47</text></g>
<g id="w53" transform="translate(864 604)"><use href="#W"/><text>Water 53</text></g><g id="k48" transform="translate(889 604)"><use href="#S"/><text>Copper 48</text></g>
<text id="wp1" x="655" y="514">Water Pipe 1</text><text id="wp2" x="725" y="527">Water Pipe 2</text><text id="wp3" x="802" y="527">Water Pipe 3</text><text id="wp4" x="877" y="514">Water Pipe 4</text>
</g>

<g id="annotations">
<rect class="a" x="180" y="37" width="386" height="178" rx="30" stroke="#7030a0"/>
<rect class="a" x="164" y="219" width="209" height="606" rx="30" stroke="#00b050"/>
<rect class="a" x="381" y="226" width="39" height="588" rx="8" stroke="#c00000"/>
<rect class="a" x="434" y="232" width="185" height="588" rx="26" stroke="#00b0f0"/>
<rect class="a" x="614" y="373" width="299" height="269" rx="38" stroke="#974706"/>
<rect class="a" x="937" y="213" width="184" height="587" rx="28" stroke="#e46c0a"/>
<rect class="a" x="1135" y="213" width="81" height="613" rx="20" stroke="#0070c0"/>
<rect class="a" x="170" y="827" width="356" height="178" rx="30" stroke="#002060"/>
<path d="M590 190L414 245" fill="none" stroke="#c00000" stroke-width="3.5" marker-end="url(#rh)"/>
</g>

<g id="titles" class="t">
<text x="197" y="31" textLength="402" lengthAdjust="spacingAndGlyphs" style="fill:#7030a0">Upper Cylinder Head + Piston</text>
<text x="591" y="180" textLength="112" lengthAdjust="spacingAndGlyphs" style="fill:#c00000">Annulus</text>
<text x="985" y="153" textLength="80" lengthAdjust="spacingAndGlyphs" style="fill:#e46c0a">Outer</text>
<text x="981" y="192" textLength="89" lengthAdjust="spacingAndGlyphs" style="fill:#e46c0a">Casing</text>
<text x="1124" y="160" textLength="113" lengthAdjust="spacingAndGlyphs" style="fill:#0070c0">External</text>
<text x="1150" y="200" textLength="60" lengthAdjust="spacingAndGlyphs" style="fill:#0070c0">Pipe</text>
<text x="828" y="315" textLength="51" lengthAdjust="spacingAndGlyphs" style="fill:#974706">Coil</text>
<text x="823" y="354" textLength="63" lengthAdjust="spacingAndGlyphs" style="fill:#974706">Pack</text>
<text x="18" y="467" textLength="129" lengthAdjust="spacingAndGlyphs" style="fill:#00b050">Magnet +</text>
<text x="18" y="506" textLength="91" lengthAdjust="spacingAndGlyphs" style="fill:#00b050">Spacer</text>
<text x="18" y="546" textLength="131" lengthAdjust="spacingAndGlyphs" style="fill:#00b050">Assembly</text>
<text x="631" y="725" textLength="72" lengthAdjust="spacingAndGlyphs" style="fill:#00b0f0">Inner</text>
<text x="631" y="764" textLength="89" lengthAdjust="spacingAndGlyphs" style="fill:#00b0f0">Casing</text>
<text x="167" y="1036" textLength="401" lengthAdjust="spacingAndGlyphs" style="fill:#002060">Lower Cylinder Head + Piston</text>
<text x="3" y="332" style="fill:#000;font-size:62px;font-weight:400">g</text>
<text x="-19" y="982" style="fill:#000;font-size:62px;font-weight:400">g</text>
</g>
</svg>
